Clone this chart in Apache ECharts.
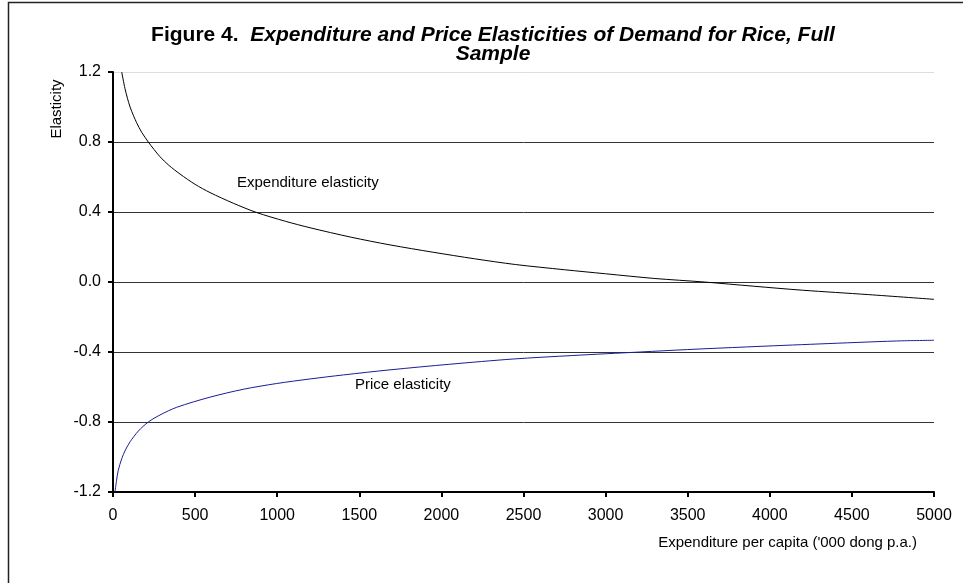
<!DOCTYPE html>
<html>
<head>
<meta charset="utf-8">
<script src="https://cdn.jsdelivr.net/npm/echarts@6/dist/echarts.min.js"></script>
<style>
  html, body { margin: 0; padding: 0; background: #fff; }
  #chart { width: 963px; height: 583px; }
</style>
</head>
<body>
<div id="chart"></div>
<script>
// Expenditure per capita ('000 dong p.a.) at which each elasticity was read
const expX = [53, 73, 88, 104, 125, 144, 175, 215, 250, 286, 340, 408, 500, 591, 733, 875, 1050, 1200, 1450, 1687, 1950, 2200, 2450, 2750, 3000, 3300, 3600, 3900, 4200, 4600, 5000];
const expElasticity = [1.2, 1.105, 1.05, 1.0, 0.95, 0.91, 0.855, 0.80, 0.757, 0.716, 0.667, 0.617, 0.558, 0.511, 0.45, 0.397, 0.347, 0.31, 0.256, 0.212, 0.17, 0.133, 0.10, 0.07, 0.047, 0.02, 0.0, -0.024, -0.047, -0.072, -0.099];

const priceX = [12, 22, 32, 53, 75, 104, 154, 215, 286, 388, 591, 794, 997, 1200, 1403, 1687, 2050, 2438, 2800, 3210, 3500, 3859, 4300, 4773, 5000];
const priceElasticity = [-1.2, -1.132, -1.076, -1.01, -0.961, -0.913, -0.852, -0.80, -0.76, -0.716, -0.658, -0.613, -0.58, -0.554, -0.531, -0.502, -0.47, -0.44, -0.42, -0.40, -0.386, -0.371, -0.354, -0.337, -0.333];

const xTicks = { min: 0, max: 5000, interval: 500 };
const yTicks = { min: -1.2, max: 1.2, interval: 0.4 };

const titleLine1Lead = 'Figure 4.  ';
const titleLine1 = 'Expenditure and Price Elasticities of Demand for Rice, Full';
const titleLine2 = 'Sample';

const zip = (xs, ys) => xs.map((x, i) => [x, ys[i]]);
const font = 'Arial, "Liberation Sans", Helvetica, sans-serif';

const chart = echarts.init(document.getElementById('chart'), null, { renderer: 'canvas' });

chart.setOption({
  animation: false,
  backgroundColor: '#fff',
  textStyle: { fontFamily: font, color: '#000' },
  title: {
    text: '{a|' + titleLine1Lead + '}{b|' + titleLine1 + '}\n{b|' + titleLine2 + '}',
    left: 488,
    top: 21,
    textAlign: 'center',
    textStyle: {
      fontFamily: font,
      lineHeight: 19,
      rich: {
        a: { fontFamily: font, fontSize: 21, fontWeight: 'bold', color: '#000', lineHeight: 19 },
        b: { fontFamily: font, fontSize: 21, fontWeight: 'bold', fontStyle: 'italic', color: '#000', lineHeight: 19 }
      }
    }
  },
  grid: { left: 113, right: 29, top: 72, bottom: 91, containLabel: false },
  xAxis: {
    type: 'value',
    min: xTicks.min, max: xTicks.max, interval: xTicks.interval,
    axisLine: { onZero: false, lineStyle: { color: '#000', width: 2 } },
    axisTick: { show: true, inside: false, length: 5, lineStyle: { color: '#000', width: 2 } },
    axisLabel: { color: '#000', fontSize: 16, fontFamily: font, margin: 16, formatter: v => String(v) },
    splitLine: { show: false }
  },
  yAxis: {
    type: 'value',
    min: yTicks.min, max: yTicks.max, interval: yTicks.interval,
    axisLine: { show: true, lineStyle: { color: '#000', width: 2 } },
    axisTick: { show: true, inside: false, length: 5, lineStyle: { color: '#000', width: 2 } },
    axisLabel: {
      color: '#000', fontSize: 16, fontFamily: font, margin: 12,
      formatter: v => (Math.abs(v) < 1e-9 ? 0 : v).toFixed(1)
    },
    splitLine: {
      show: true,
      lineStyle: { color: ['#333', '#333', '#333', '#333', '#333', '#333', '#ddd'], width: 1 }
    }
  },
  series: [
    {
      name: 'Expenditure elasticity',
      type: 'line',
      data: zip(expX, expElasticity),
      showSymbol: false,
      smooth: 0.3,
      lineStyle: { color: '#000', width: 1 },
      itemStyle: { color: '#000' },
      z: 3
    },
    {
      name: 'Price elasticity',
      type: 'line',
      data: zip(priceX, priceElasticity),
      showSymbol: false,
      smooth: 0.3,
      lineStyle: { color: '#1c1c96', width: 1 },
      itemStyle: { color: '#1c1c96' },
      z: 3
    }
  ],
  graphic: [
    {
      type: 'rect',
      shape: { x: 8.5, y: 2.5, width: 1000, height: 1000 },
      style: { fill: 'none', stroke: '#222', lineWidth: 1.5 },
      silent: true, z: 10
    },
    {
      type: 'text',
      x: 57, y: 109, rotation: Math.PI / 2,
      style: { text: 'Elasticity', font: '15px ' + font, fill: '#000', textAlign: 'center', textVerticalAlign: 'middle' }
    },
    {
      type: 'text',
      x: 917, y: 543,
      style: { text: "Expenditure per capita ('000 dong p.a.)", font: '15px ' + font, fill: '#000', textAlign: 'right', textVerticalAlign: 'middle' }
    },
    {
      type: 'text',
      x: 237, y: 183,
      style: { text: 'Expenditure elasticity', font: '15px ' + font, fill: '#000', textAlign: 'left', textVerticalAlign: 'middle' }
    },
    {
      type: 'text',
      x: 355, y: 385,
      style: { text: 'Price elasticity', font: '15px ' + font, fill: '#000', textAlign: 'left', textVerticalAlign: 'middle' }
    }
  ]
});
</script>
</body>
</html>
